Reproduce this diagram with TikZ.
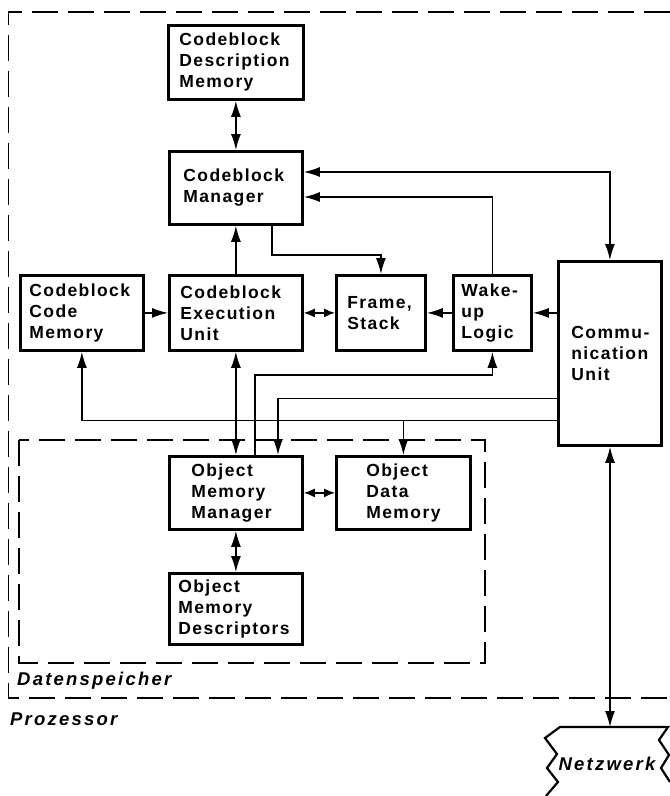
\documentclass[tikz,border=0pt]{standalone}
\usepackage{fontspec}
\setmainfont{Liberation Sans}
\newfontfamily\boxfont[LetterSpace=8]{Liberation Sans}
\newfontfamily\tagfont[LetterSpace=12]{Liberation Sans}
\usetikzlibrary{arrows.meta}
\hyphenpenalty=10000
\exhyphenpenalty=10000

\tikzset{
  >={Latex[length=16pt,width=10pt]},
  blk/.style={draw, line width=2.8pt, anchor=north west, align=left, inner ysep=0pt,
    font=\boxfont\bfseries\fontsize{17.5}{21}\selectfont},
  wire/.style={line width=1.5pt},
  frame/.style={line width=1.3pt, dash pattern=on 26pt off 10pt},
  tag/.style={anchor=base west, inner sep=0pt,
    font=\tagfont\bfseries\itshape\fontsize{18.5}{22}\selectfont},
}

\begin{document}
\begin{tikzpicture}[x=1pt,y=-1pt]
\useasboundingbox (0,0) rectangle (670,796);

% frames
\draw[frame] (670,12) -| (8.5,698) -- (670,698);
\draw[frame] (19,440) rectangle (485,663);

\node[tag] (dslabel) at (17,685) {Datenspeicher};
\node[tag] (prlabel) at (10,725) {Prozessor};

% blocks
\node[blk, minimum height=74pt, text width=113pt, inner xsep=11pt] (cdm) at (167,24) {Codeblock\\Description\\Memory};
\node[blk, minimum height=73pt, text width=105pt, inner xsep=14pt] (cm) at (168,150) {Codeblock\\Manager};
\node[blk, minimum height=75pt, text width=105pt, inner xsep=9pt] (ccm) at (19,274) {Codeblock\\Code\\Memory};
\node[blk, minimum height=75pt, text width=111pt, inner xsep=11pt] (ceu) at (168,274) {Codeblock\\Execution\\Unit};
\node[blk, minimum height=75pt, text width=67pt, inner xsep=11pt] (fs) at (335,274) {Frame,\\Stack};
\node[blk, minimum height=75pt, text width=62pt, inner xsep=8pt] (wl) at (452,274) {Wake-\\up\\Logic};
\node[blk, minimum height=184pt, text width=77pt, inner xsep=13pt] (cu) at (557,260) {Commu-\\nication\\Unit};
\node[blk, minimum height=73pt, text width=89pt, inner xsep=22pt] (omm) at (168,455) {Object\\Memory\\Manager};
\node[blk, minimum height=73pt, text width=74pt, inner xsep=30pt] (odm) at (335,455) {Object\\Data\\Memory};
\node[blk, minimum height=71pt, text width=115pt, inner xsep=9pt] (omd) at (168,572) {Object\\Memory\\Descriptors};

% network
\draw[line width=2.2pt] (546,796) -- (558,782) -- (547,768) -- (557,754) -- (545,738) -- (560,727)
  -- (668,727) -- (659,740) -- (669,755) -- (661,768) -- (670,782);
\node[tag, anchor=base] (netz) at (607,770) {Netzwerk};
\coordinate (nettop) at (610,727);

% connections
\draw[wire,<->] (cdm.south) -- (cm.north);
\draw[wire,<->] ([yshift=-22pt]cm.north east) -| (cu.north);
\draw[wire,->] (wl.north) |- ([yshift=-47pt]cm.north east);
\draw[wire,->] ([xshift=-32pt]cm.south east) -- ++(0,29) -| (fs.north);
\draw[wire,->] (ceu.north) -- (cm.south);
\draw[wire,->] (ccm.east) -- (ceu.west);
\draw[wire,<->,>={Latex[length=11pt,width=9pt]}] (ceu.east) -- (fs.west);
\draw[wire,->] (wl.west) -- (fs.east);
\draw[wire,->] (cu.west |- wl.east) -- (wl.east);
\draw[wire,<->] (ceu.south) -- (omm.north);
\draw[wire,->] ([xshift=87pt]omm.north west) -- ++(0,-80) -| (wl.south);
\draw[wire,->] ([yshift=-45pt]cu.west) -| ([xshift=110pt]omm.north west);
\coordinate (bus) at ([yshift=-67pt]cu.west);
\draw[wire,->] (bus) -| (ccm.south);
\draw[wire,->] (odm.north |- bus) -- (odm.north);
\draw[wire,<->,>={Latex[length=11pt,width=9pt]}] (omm.east) -- (odm.west);
\draw[wire,<->] (omm.south) -- (omd.north);
\draw[wire,<->] (cu.south -| nettop) -- (nettop);
\end{tikzpicture}
\end{document}
